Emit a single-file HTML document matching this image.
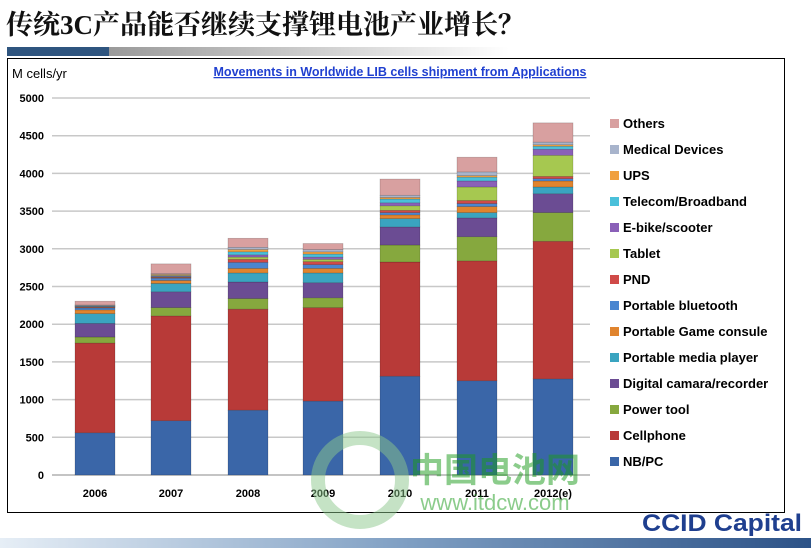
<!DOCTYPE html>
<html><head><meta charset="utf-8"><style>
body{margin:0;width:811px;height:548px;background:#fff;overflow:hidden;position:relative;font-family:"Liberation Sans",sans-serif}
.t{position:absolute;left:6px;top:3px;font-family:"Liberation Serif","Noto Serif CJK SC",serif;font-size:27px;font-weight:bold;color:#111}
</style></head><body>
<div class="t">传统3C产品能否继续支撑锂电池产业增长？</div>
<div style="position:absolute;left:7px;top:47px;width:102px;height:9px;background:#2f557f"></div>
<div style="position:absolute;left:109px;top:47px;width:400px;height:9px;background:linear-gradient(90deg,#9a9a9a,#fff)"></div>
<div style="position:absolute;left:0;top:538px;width:811px;height:10px;background:linear-gradient(90deg,#e6eef6,#7f9fc3 50%,#2c5287)"></div>
<svg id="s" width="811" height="548" style="position:absolute;left:0;top:0" font-family="Liberation Sans, sans-serif">
<rect x="7.5" y="58.5" width="777" height="454" fill="none" stroke="#000" stroke-width="1"/>
<text x="12" y="78" font-size="13" fill="#000">M cells/yr</text>
<text x="400" y="76" font-size="12.5" font-weight="bold" fill="#1f3fd0" text-anchor="middle" text-decoration="underline">Movements in Worldwide LIB cells shipment from Applications</text>
<g id="grid"></g>
<g id="bars"></g>
<g font-size="11" font-weight="bold" text-anchor="middle" fill="#000">
<text x="95" y="497">2006</text><text x="171" y="497">2007</text><text x="248" y="497">2008</text><text x="323" y="497">2009</text><text x="400" y="497">2010</text><text x="477" y="497">2011</text><text x="553" y="497">2012(e)</text>
</g>
<g id="leg" font-size="13" font-weight="bold" fill="#000"></g>
<g opacity="0.5">
<circle cx="360" cy="480" r="42" fill="none" stroke="#8cc78c" stroke-width="14"/>
<text x="495" y="482" font-size="34" font-weight="bold" fill="#1a9a1a" text-anchor="middle" font-family="Liberation Sans, Noto Sans CJK SC, sans-serif">中国电池网</text>
<text x="495" y="510" font-size="22" fill="#1a9a1a" text-anchor="middle">www.itdcw.com</text>
</g>
<text x="722" y="531" font-size="24" font-weight="bold" fill="#1f3f8f" text-anchor="middle" textLength="160" lengthAdjust="spacingAndGlyphs">CCID Capital</text>
</svg>
<script>
var NS="http://www.w3.org/2000/svg",g=document.getElementById('grid'),b=document.getElementById('bars'),L=document.getElementById('leg');
function el(t,a,p){var e=document.createElementNS(NS,t);for(var k in a)e.setAttribute(k,a[k]);p.appendChild(e);return e;}
function Y(v){return 475-v*0.0754;}
for(var i=0;i<=10;i++){var y=Y(i*500);if(i>0)el('line',{x1:52,x2:590,y1:y,y2:y,stroke:'#c8c8c8','stroke-width':1.5},g);var t=el('text',{x:44,y:y+4,'font-size':11,'font-weight':'bold','text-anchor':'end'},g);t.textContent=i*500;}
el('line',{x1:52,x2:590,y1:475,y2:475,stroke:'#888'},g);
var C=['#3a66a8','#b83a38','#86a83e','#6b4c93','#3aa4c0','#e0842e','#4a86d0','#d04a48','#a6c850','#8a60b8','#4ac0da','#f0a040','#a8b4cc','#d8a0a0'];
var D=[[560,1750,1830,2010,2140,2190,2215,2225,2228,2233,2240,2245,2255,2305],
[720,2110,2220,2430,2540,2580,2610,2620,2625,2635,2645,2660,2670,2800],
[860,2200,2340,2560,2680,2740,2820,2860,2890,2920,2960,2990,3020,3140],
[980,2220,2350,2550,2680,2740,2790,2830,2860,2890,2930,2960,2990,3070],
[1310,2825,3050,3290,3400,3450,3480,3510,3570,3610,3660,3680,3710,3925],
[1250,2840,3160,3410,3480,3560,3600,3640,3820,3900,3950,3970,4020,4215],
[1275,3100,3480,3730,3820,3900,3930,3960,4240,4320,4360,4380,4415,4670]];
var X=[95,171,248,323,400,477,553];
D.forEach(function(d,j){var prev=0;d.forEach(function(v,k){el('rect',{x:X[j]-20,y:Y(v),width:40,height:Y(prev)-Y(v),fill:C[k],stroke:'rgba(0,0,0,0.25)','stroke-width':0.6},b);prev=v;});});
var N=['NB/PC','Cellphone','Power tool','Digital camara/recorder','Portable media player','Portable Game consule','Portable bluetooth','PND','Tablet','E-bike/scooter','Telecom/Broadband','UPS','Medical Devices','Others'];
N.forEach(function(n,k){var y=465-k*26;el('rect',{x:610,y:y-8,width:9,height:9,fill:C[k]},L);var t=el('text',{x:623,y:y+1},L);t.textContent=n;});
</script>
</body></html>
